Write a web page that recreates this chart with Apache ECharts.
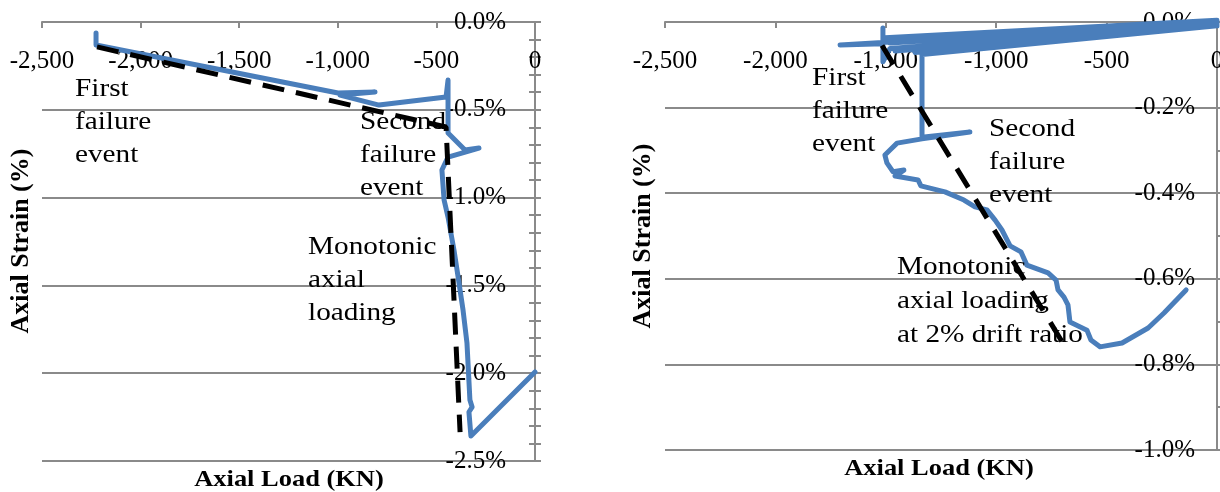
<!DOCTYPE html>
<html lang="en">
<head>
  <meta charset="UTF-8">
  <title>Axial load vs axial strain</title>
  <style>
    body, html {
      background: #fff;
      margin: 0;
      padding: 0;
    }
    #main {
      width: 1220px;
      height: 492px;
    }
  </style>
</head>
<body>
  <div id="main"></div>
</body>
<script src="https://cdn.jsdelivr.net/npm/echarts@6/dist/echarts.min.js"></script>
<script>
  // left specimen: measured curve (kN, %)
  var leftLoad = [-2226, -2226, -999, -811, -989, -791, -451, -441, -441, -355, -284, -441, -472,
    -461, -441, -411, -390, -365, -345, -330, -319, -335, -325, 0];
  var leftStrain = [-0.063, -0.131, -0.404, -0.399, -0.416, -0.473, -0.427, -0.330, -0.632, -0.729,
    -0.718, -0.769, -0.843, -1.014, -1.111, -1.298, -1.452, -1.640, -1.828, -2.153, -2.193, -2.221,
    -2.358, -1.993];
  // left specimen: monotonic axial loading (dashed)
  var leftDashLoad = [-2221, -451, -380];
  var leftDashStrain = [-0.142, -0.598, -2.335];

  // right specimen: measured curve (kN, %), cyclic part first
  var rightLoad = [0, -1504, 0, -1436, 0, -1481, 0, -1707, -1513, -1513, -1513, -1481,
    0, -1390, 0, -1458, 0, -1368, 0, -1336,
    -1336, -1119, -1336, -1449, -1481, -1504, -1495, -1467, -1418, -1458, -1354, -1341, -1232,
    -1146, -1096, -1042, -1005, -974, -937, -888, -861, -765, -729, -720, -693, -675, -666, -589,
    -571, -530, -430, -312, -240, -140];
  var rightStrain = [0.004, -0.037, 0.002, -0.043, 0, -0.049, -0.002, -0.054, -0.051, -0.014,
    -0.093, -0.062, -0.004, -0.061, -0.006, -0.068, -0.008, -0.071, -0.009, -0.076,
    -0.269, -0.257, -0.273, -0.283, -0.299, -0.311, -0.329, -0.350, -0.346, -0.360, -0.369, -0.383,
    -0.397, -0.416, -0.432, -0.439, -0.463, -0.486, -0.523, -0.537, -0.568, -0.586, -0.603, -0.626,
    -0.643, -0.661, -0.701, -0.720, -0.743, -0.759, -0.750, -0.715, -0.680, -0.626];
  // right specimen: monotonic axial loading at 2% drift (dashed)
  var rightDashLoad = [-1517, -684];
  var rightDashStrain = [-0.055, -0.762];

  var leftNotes = ['First\nfailure\nevent', 'Second\nfailure\nevent', 'Monotonic\naxial\nloading'];
  var rightNotes = ['First\nfailure\nevent', 'Second\nfailure\nevent', 'Monotonic\naxial loading\nat 2% drift ratio'];

  function pairs(xs, ys) {
    return xs.map(function (x, i) { return [x, ys[i]]; });
  }

  var serif = 'Liberation Serif';
  var gray = '#8a8a8a';

  function loadFmt(v) {
    if (v === 0) return '0';
    return (v < 0 ? '-' : '') + Math.abs(v).toLocaleString('en-US');
  }

  function xAxisOf(idx) {
    return {
      gridIndex: idx,
      type: 'value',
      position: 'top',
      min: -2500,
      max: 0,
      interval: 500,
      axisLine: { show: true, onZero: false, lineStyle: { color: gray, width: 2 } },
      axisTick: { show: true, inside: true, length: 6, lineStyle: { color: gray, width: 2 } },
      axisLabel: {
        inside: true,
        margin: 27,
        color: '#000',
        fontFamily: serif,
        fontSize: 25,
        formatter: loadFmt
      },
      splitLine: { show: false }
    };
  }

  function yAxisOf(idx, min, interval, minor, margin) {
    return {
      gridIndex: idx,
      type: 'value',
      position: 'right',
      min: min,
      max: 0,
      interval: interval,
      axisLine: { show: true, onZero: false, lineStyle: { color: gray, width: 2 } },
      axisTick: { show: true, length: 6, lineStyle: { color: gray, width: 2 } },
      minorTick: { show: true, splitNumber: minor, length: 6, lineStyle: { color: gray, width: 2 } },
      axisLabel: {
        inside: true,
        margin: margin,
        color: '#000',
        fontFamily: serif,
        fontSize: 25,
        formatter: function (v) { return v.toFixed(1) + '%'; }
      },
      splitLine: { show: true, lineStyle: { color: gray, width: 2 } }
    };
  }

  // 左图刻度是十字形，多加一根只画内侧刻度的轴
  var leftInnerTicks = {
    gridIndex: 0,
    type: 'value',
    position: 'right',
    min: -2.5,
    max: 0,
    interval: 0.5,
    axisLine: { show: false, onZero: false },
    axisTick: { show: true, inside: true, length: 6, lineStyle: { color: gray, width: 2 } },
    minorTick: { show: true, splitNumber: 5, length: 6, lineStyle: { color: gray, width: 2 } },
    axisLabel: { show: false },
    splitLine: { show: false }
  };

  function note(x, y, text, lh) {
    return {
      type: 'text',
      x: x,
      y: y,
      scaleX: 1.17,
      z: 50,
      style: {
        text: text,
        fill: '#000',
        font: '25px "' + serif + '"',
        lineHeight: lh || 33,
        verticalAlign: 'top',
        align: 'left'
      }
    };
  }

  function xTitle(cx, top) {
    return {
      type: 'text',
      x: cx,
      y: top,
      scaleX: 1.15,
      z: 50,
      style: {
        text: 'Axial Load (KN)',
        fill: '#000',
        font: 'bold 23px "' + serif + '"',
        align: 'center',
        verticalAlign: 'top'
      }
    };
  }

  function yTitle(cx, cy) {
    return {
      type: 'text',
      x: cx,
      y: cy,
      rotation: Math.PI / 2,
      z: 50,
      style: {
        text: 'Axial Strain (%)',
        fill: '#000',
        font: 'bold 26px "' + serif + '"',
        align: 'center',
        verticalAlign: 'middle'
      }
    };
  }

  var blue = { color: '#4a7ebb', width: 5, cap: 'round', join: 'round' };

  var myChart = echarts.init(document.getElementById('main'));
  var option = {
    animation: false,
    grid: [
      { left: 42, right: 685, top: 22, bottom: 31, outerBoundsMode: 'none' },
      { left: 665, right: 3, top: 22, bottom: 42, outerBoundsMode: 'none' }
    ],
    xAxis: [xAxisOf(0), xAxisOf(1)],
    yAxis: [
      yAxisOf(0, -2.5, 0.5, 5, 29),
      yAxisOf(1, -1, 0.2, 2, 22),
      leftInnerTicks
    ],
    graphic: [
      note(75, 73, leftNotes[0]),
      note(360, 106, leftNotes[1]),
      note(308, 231, leftNotes[2]),
      note(812, 62, rightNotes[0]),
      note(989, 113, rightNotes[1]),
      note(897, 250, rightNotes[2], 34),
      xTitle(289, 469),
      xTitle(939, 458),
      yTitle(21, 241),
      yTitle(643, 236)
    ],
    series: [
      {
        name: 'left measured',
        type: 'line',
        xAxisIndex: 0,
        yAxisIndex: 0,
        showSymbol: false,
        lineStyle: blue,
        data: pairs(leftLoad, leftStrain)
      },
      {
        name: 'left monotonic',
        type: 'line',
        xAxisIndex: 0,
        yAxisIndex: 0,
        showSymbol: false,
        lineStyle: { color: '#000', width: 5, type: [22, 12] },
        data: pairs(leftDashLoad, leftDashStrain)
      },
      {
        name: 'right measured',
        type: 'line',
        xAxisIndex: 1,
        yAxisIndex: 1,
        showSymbol: false,
        clip: false,
        lineStyle: blue,
        data: pairs(rightLoad, rightStrain)
      },
      {
        name: 'right monotonic',
        type: 'line',
        xAxisIndex: 1,
        yAxisIndex: 1,
        showSymbol: false,
        lineStyle: { color: '#000', width: 5, type: [22, 14] },
        data: pairs(rightDashLoad, rightDashStrain)
      }
    ]
  };
  myChart.setOption(option);
</script>
</html>
